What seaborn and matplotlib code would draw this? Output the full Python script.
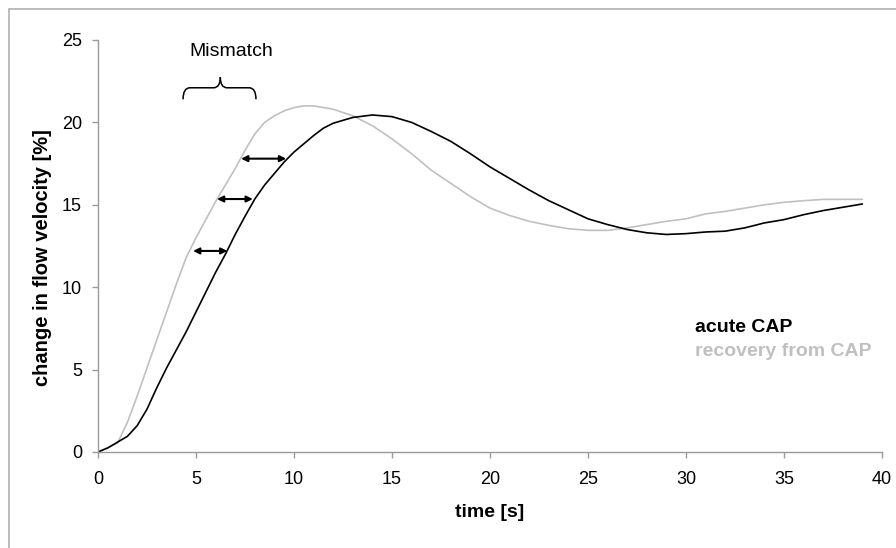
import numpy as np
import pandas as pd
import seaborn as sns
import matplotlib.pyplot as plt
from matplotlib.path import Path
from matplotlib.patches import PathPatch
from matplotlib.lines import Line2D

# czas [s]
czas = [0, 0.5, 1, 1.5, 2, 2.5, 3, 3.5, 4, 4.5, 5, 5.5, 6, 6.5, 7, 7.5, 8, 8.5, 9, 9.5,
        10, 10.5, 11, 11.5, 12, 13, 14, 15, 16, 17, 18, 19, 20, 21, 22, 23, 24, 25,
        26, 27, 28, 29, 30, 31, 32, 33, 34, 35, 36, 37, 38, 39]

# acute CAP
ostry = [0, 0.25, 0.6, 0.95, 1.6, 2.6, 3.9, 5.1, 6.2, 7.3, 8.5, 9.7, 10.9, 12.0, 13.2, 14.3,
         15.35, 16.2, 16.9, 17.6, 18.2, 18.7, 19.2, 19.65, 19.95, 20.3, 20.45, 20.35, 20.0,
         19.45, 18.85, 18.1, 17.3, 16.6, 15.9, 15.25, 14.7, 14.15, 13.8, 13.5, 13.3, 13.2,
         13.25, 13.35, 13.4, 13.6, 13.9, 14.1, 14.4, 14.65, 14.85, 15.05]

# recovery from CAP
powrot = [0, 0.25, 0.55, 1.8, 3.4, 5.1, 6.8, 8.5, 10.2, 11.8, 13.0, 14.1, 15.2, 16.2, 17.2,
          18.3, 19.3, 20.0, 20.4, 20.7, 20.9, 21.0, 21.0, 20.9, 20.8, 20.4, 19.8, 19.0, 18.1,
          17.1, 16.3, 15.5, 14.8, 14.35, 14.0, 13.75, 13.55, 13.45, 13.45, 13.6, 13.8, 14.0,
          14.15, 14.45, 14.6, 14.8, 15.0, 15.15, 15.25, 15.33, 15.33, 15.33]

# strzalki "mismatch": poziom, poczatek (szara), koniec (czarna)
strzalki_y = [12.2, 15.35, 17.8]
strzalki_od = [4.85, 6.07, 7.3]
strzalki_do = [6.6, 7.9, 9.6]

x_ticki = [0, 5, 10, 15, 20, 25, 30, 35, 40]
y_ticki = [0, 5, 10, 15, 20, 25]

szary = "#c0c0c0"
os_kolor = "#9a9a9a"

sns.set_style("white")
plt.rcParams["font.family"] = ["Liberation Sans", "DejaVu Sans"]
plt.rcParams["text.color"] = "black"

tabelka = pd.DataFrame({
    "time": czas * 2,
    "value": ostry + powrot,
    "series": ["acute CAP"] * len(czas) + ["recovery from CAP"] * len(czas),
})

fig = plt.figure(figsize=(8.96, 5.48), dpi=100)
ax = fig.add_axes([98 / 896, 1 - 452 / 548, 784 / 896, 412 / 548])

sns.lineplot(data=tabelka, x="time", y="value", hue="series",
             palette={"acute CAP": "black", "recovery from CAP": szary},
             hue_order=["recovery from CAP", "acute CAP"],
             linewidth=1.2, legend=False, ax=ax)

ax.set_xlim(0, 40)
ax.set_ylim(0, 25)
ax.set_xticks(x_ticki)
ax.set_yticks(y_ticki)
ax.tick_params(axis="both", labelsize=13, length=4.5, width=1, color=os_kolor,
               labelcolor="black", direction="out", bottom=True, left=True)
ax.tick_params(axis="x", pad=9)
ax.tick_params(axis="y", pad=7)
for s in ["top", "right"]:
    ax.spines[s].set_visible(False)
for s in ["left", "bottom"]:
    ax.spines[s].set_color(os_kolor)
    ax.spines[s].set_linewidth(1)

ax.set_xlabel("time [s]", fontsize=14, fontweight="bold", color="black", labelpad=12)
ax.set_ylabel("change in flow velocity [%]", fontsize=14.5, fontweight="bold",
              color="black", va="center")
ax.yaxis.set_label_coords(-0.0714, 0.473)

# strzalki
for yy, a, b in zip(strzalki_y, strzalki_od, strzalki_do):
    ax.annotate("", xy=(b, yy), xytext=(a, yy),
                arrowprops=dict(arrowstyle="<|-|>", color="black", lw=1.5,
                                mutation_scale=9, shrinkA=0, shrinkB=0))

# klamra
x0, x1, xm = 4.34, 8.06, 6.24
yb, ya, yt = 21.4, 22.1, 22.75
r = 0.35
sciezka1 = Path([(x0, yb), (x0, ya), (x0 + r, ya), (xm - r, ya), (xm, ya), (xm, yt)],
                [Path.MOVETO, Path.CURVE3, Path.CURVE3, Path.LINETO, Path.CURVE3, Path.CURVE3])
sciezka2 = Path([(xm, yt), (xm, ya), (xm + r, ya), (x1 - r, ya), (x1, ya), (x1, yb)],
                [Path.MOVETO, Path.CURVE3, Path.CURVE3, Path.LINETO, Path.CURVE3, Path.CURVE3])
for p in (sciezka1, sciezka2):
    ax.add_patch(PathPatch(p, facecolor="none", edgecolor="black", lw=1.1, clip_on=False))

ax.text(6.8, 24.3, "Mismatch", fontsize=14, ha="center", va="center")

ax.text(30.46, 7.58, "acute CAP", fontsize=14, fontweight="bold", color="black",
        ha="left", va="center")
ax.text(30.46, 6.07, "recovery from CAP", fontsize=14, fontweight="bold", color=szary,
        ha="left", va="center")

# ramka wokol wykresu
fig.add_artist(Line2D([9 / 896, 9 / 896], [0, 1 - 9 / 548], color="#b0b0b0", lw=1.2))
fig.add_artist(Line2D([9 / 896, 1], [1 - 9 / 548, 1 - 9 / 548], color="#b0b0b0", lw=1.2))

fig.savefig("out.png", dpi=100)
